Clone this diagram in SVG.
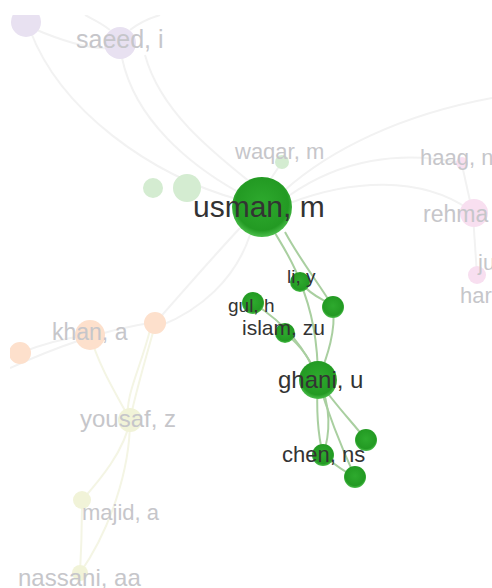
<svg xmlns="http://www.w3.org/2000/svg" width="492" height="588" viewBox="0 0 492 588">
<defs>
<clipPath id="clip"><rect x="10" y="15" width="482" height="573"/></clipPath>
<radialGradient id="gGreen" cx="50%" cy="45%" r="55%">
<stop offset="0%" stop-color="#2eaa2e"/>
<stop offset="80%" stop-color="#239a23"/>
<stop offset="100%" stop-color="#4cbf4c"/>
</radialGradient>
<style>
text{font-family:"Liberation Sans",Arial,sans-serif;}
.faint{fill:none;stroke:#f2f2f2;stroke-width:2;}
.fy{fill:none;stroke:#f4f5e4;stroke-width:2;}
.gr{fill:none;stroke:#a9cfa0;stroke-width:2;}
.green{fill:url(#gGreen);}
.lav{fill:#e8e1f1;}
.pink{fill:#f8dff0;}
.peach{fill:#fde0cc;}
.yel{fill:#f1f3d8;}
.pgreen{fill:#d4ecd1;}
.dark{fill:#333333;}
.light{fill:#c6c6ca;}
</style>
</defs>
<rect width="492" height="588" fill="#ffffff"/>
<g clip-path="url(#clip)">
<g id="connectors">
<path class="faint" d="M30,30 C60,110 150,175 240,200"/>
<path class="faint" d="M32,28 C60,40 90,50 110,48"/>
<path class="faint" d="M122,58 C135,120 190,165 238,192"/>
<path class="faint" d="M145,55 C160,110 210,150 250,182"/>
<path class="faint" d="M130,30 C140,22 150,18 160,15"/>
<path class="faint" d="M110,30 C100,22 90,18 85,15"/>
<path class="faint" d="M285,190 C330,150 400,115 492,98"/>
<path class="faint" d="M290,195 C340,160 400,150 460,163"/>
<path class="faint" d="M290,203 C350,180 420,175 470,210"/>
<path class="faint" d="M270,180 L282,162"/>
<path class="faint" d="M462,165 L472,210"/>
<path class="faint" d="M473,215 L477,275"/>
<path class="faint" d="M240,228 C210,260 180,295 156,322"/>
<path class="faint" d="M250,235 C235,280 200,310 160,326"/>
<path class="faint" d="M10,368 C50,350 100,330 156,322"/>
<path class="faint" d="M20,353 C40,345 65,338 90,335"/>
<path class="fy" d="M90,335 C100,370 120,400 130,420"/>
<path class="fy" d="M156,322 C145,360 135,395 130,420"/>
<path class="fy" d="M150,330 C140,370 125,395 128,420"/>
<path class="fy" d="M130,420 C125,450 100,480 82,500"/>
<path class="fy" d="M130,420 C130,470 110,530 80,573"/>
<path class="fy" d="M82,500 C82,530 81,555 80,573"/>
<path class="gr" d="M275,233 C285,250 295,265 300,282"/>
<path class="gr" d="M285,232 C300,260 320,285 333,307"/>
<path class="gr" d="M300,282 C312,310 318,340 318,380"/>
<path class="gr" d="M333,307 C336,330 328,355 318,380"/>
<path class="gr" d="M300,282 C315,300 328,300 333,307"/>
<path class="gr" d="M253,303 C280,320 305,345 318,380"/>
<path class="gr" d="M285,333 C300,345 312,360 318,380"/>
<path class="gr" d="M318,380 C316,410 318,435 323,455"/>
<path class="gr" d="M318,380 C332,405 330,435 323,455"/>
<path class="gr" d="M318,380 C335,405 355,425 366,440"/>
<path class="gr" d="M318,380 C330,420 345,455 355,477"/>
<path class="gr" d="M323,455 C335,465 345,472 355,477"/>
</g>
<g id="n-topleft"><circle class="lav" cx="26" cy="22" r="15"/></g>
<g id="n-saeed"><circle class="lav" cx="120" cy="43" r="16"/><text class="light" x="76" y="48" font-size="25">saeed, i</text></g>
<g id="n-pg1"><circle class="pgreen" cx="153" cy="188" r="10"/></g>
<g id="n-pg2"><circle class="pgreen" cx="187" cy="188" r="14"/></g>
<g id="n-waqar"><circle class="pgreen" cx="282" cy="162" r="7"/><text class="light" x="235" y="159" font-size="22">waqar, m</text></g>
<g id="n-haag"><circle class="pink" cx="462" cy="163" r="6"/><text class="light" x="420" y="165" font-size="22">haag, n</text></g>
<g id="n-rehman"><circle class="pink" cx="474" cy="213" r="14"/><text class="light" x="423" y="222" font-size="23">rehma</text></g>
<g id="n-ju"><circle class="pink" cx="477" cy="275" r="9"/><text class="light" x="478" y="270" font-size="22">ju</text></g>
<g id="n-har"><text class="light" x="460" y="303" font-size="22">har</text></g>
<g id="n-khan"><circle class="peach" cx="90" cy="335" r="15"/><text class="light" x="52" y="340" font-size="23">khan, a</text></g>
<g id="n-peach1"><circle class="peach" cx="155" cy="323" r="11"/></g>
<g id="n-peach2"><circle class="peach" cx="20" cy="353" r="11"/></g>
<g id="n-yousaf"><circle class="yel" cx="130" cy="420" r="12"/><text class="light" x="80" y="427" font-size="24">yousaf, z</text></g>
<g id="n-majid"><circle class="yel" cx="82" cy="500" r="9"/><text class="light" x="82" y="520" font-size="22">majid, a</text></g>
<g id="n-nassani"><circle class="yel" cx="80" cy="573" r="8"/><text class="light" x="18" y="586" font-size="24">nassani, aa</text></g>
<g id="n-usman"><circle class="green" cx="262" cy="207" r="30"/><text class="dark" x="193" y="217" font-size="30">usman, m</text></g>
<g id="n-li"><circle class="green" cx="300" cy="282" r="10"/><text class="dark" x="287" y="283" font-size="19">li, y</text></g>
<g id="n-n2"><circle class="green" cx="333" cy="307" r="11"/></g>
<g id="n-gul"><circle class="green" cx="253" cy="303" r="11"/><text class="dark" x="228" y="312" font-size="19">gul, h</text></g>
<g id="n-islam"><circle class="green" cx="285" cy="333" r="10"/><text class="dark" x="242" y="335" font-size="21">islam, zu</text></g>
<g id="n-ghani"><circle class="green" cx="318" cy="380" r="19"/><text class="dark" x="278" y="388" font-size="24">ghani, u</text></g>
<g id="n-n3"><circle class="green" cx="366" cy="440" r="11"/></g>
<g id="n-chen"><circle class="green" cx="323" cy="455" r="11"/><text class="dark" x="282" y="462" font-size="22">chen, ns</text></g>
<g id="n-n4"><circle class="green" cx="355" cy="477" r="11"/></g>
</g>
</svg>
